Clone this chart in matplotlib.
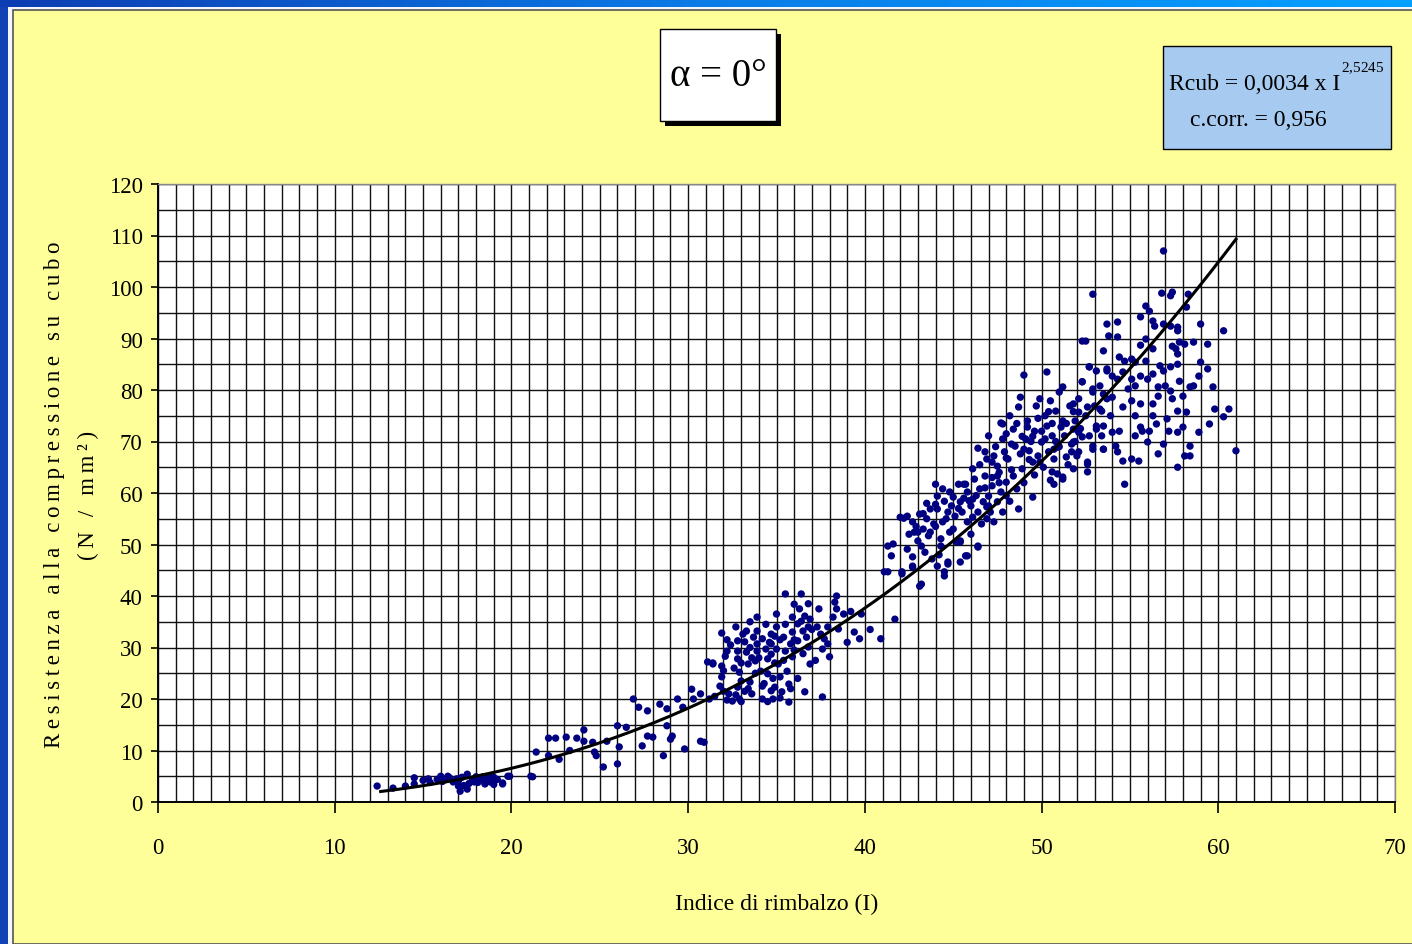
import numpy as np
import matplotlib
matplotlib.use("Agg")
import matplotlib.pyplot as plt
from matplotlib.patches import Rectangle
from matplotlib.ticker import MultipleLocator

plt.rcParams['font.family'] = ['Liberation Serif', 'DejaVu Serif']
plt.rcParams['mathtext.fontset'] = 'custom'
plt.rcParams['mathtext.rm'] = 'Liberation Serif'

# regressione potenza  Rcub = a * I^b
coef_a = 0.0034
coef_b = 2.5245
c_corr = 0.956
curve_start, curve_end = 12.6, 61.0

# letture sclerometriche (indice di rimbalzo, resistenza N/mm2)
pts_low = [
    (12.4, 3.1), (13.3, 2.7), (14.0, 3.1), (14.5, 3.5), (14.5, 4.7), (15.0, 4.2), (15.3, 4.5),
    (15.4, 3.8), (15.8, 4.4), (16.0, 5.0), (16.1, 4.0), (16.4, 4.6), (16.4, 5.0), (16.5, 4.7),
    (16.7, 3.9), (16.9, 4.5), (17.0, 4.1), (17.0, 3.1), (17.1, 2.1), (17.2, 4.8), (17.3, 3.2),
    (17.5, 2.5), (17.5, 5.4), (17.6, 3.6), (17.8, 4.2), (17.9, 3.9), (18.0, 4.9), (18.1, 3.8),
    (18.3, 4.3), (18.4, 4.9), (18.5, 3.5), (18.6, 4.6), (18.8, 3.9), (18.8, 4.9), (18.9, 4.2),
    (19.0, 3.4), (19.0, 4.8), (19.0, 3.9), (19.2, 4.4), (19.5, 3.7), (19.5, 3.5), (19.8, 5.0),
    (19.9, 5.0), (21.1, 5.0), (21.2, 4.9),
]

pts_mid = [
    (21.4, 9.7), (22.1, 12.4), (22.1, 9.0), (22.5, 12.4), (22.7, 8.3), (23.1, 12.6), (23.3, 10.0),
    (23.7, 12.4), (24.1, 14.0), (24.1, 11.8), (24.6, 11.6), (24.7, 9.7), (24.8, 9.0), (25.2, 6.8),
    (25.4, 11.8), (26.0, 14.8), (26.0, 7.4), (26.1, 10.7), (26.5, 14.5), (26.9, 20.0), (27.2, 18.4),
    (27.4, 10.9), (27.7, 12.8), (27.7, 17.7), (28.0, 12.6), (28.4, 19.0), (28.6, 9.0), (28.8, 18.1),
    (28.8, 14.8), (29.0, 12.2), (29.1, 12.8), (29.4, 20.0), (29.7, 18.4), (29.8, 10.3), (30.2, 21.9),
    (30.3, 20.0), (30.7, 21.0), (30.7, 11.8), (30.9, 11.6), (31.2, 20.0),
]

pts_30 = [
    (31.1, 27.2), (31.4, 27.0), (31.4, 26.8), (31.9, 32.8), (31.9, 26.4), (31.9, 24.3), (32.1, 28.3),
    (32.2, 29.3), (32.3, 21.0), (32.5, 19.6), (32.7, 34.0), (32.8, 31.3), (32.8, 29.3), (32.8, 27.8),
    (32.9, 25.2), (32.8, 22.3), (32.9, 20.0), (33.1, 32.6), (33.2, 31.1), (33.3, 33.2), (33.3, 29.1),
    (33.4, 26.8), (33.5, 23.3), (33.6, 21.0), (33.7, 32.0), (33.8, 27.4), (33.9, 29.3), (33.9, 30.7),
    (33.9, 35.9), (33.9, 33.2), (34.1, 25.4), (34.2, 22.5), (34.2, 20.0), (34.2, 31.7), (34.4, 29.7),
    (34.5, 27.8), (34.5, 24.9), (34.7, 32.6), (34.7, 30.7), (34.7, 28.7), (34.7, 21.6), (34.8, 20.0),
    (34.9, 32.2), (35.0, 29.7), (35.1, 26.8), (35.2, 24.3), (35.3, 21.4), (35.4, 32.0), (35.5, 29.3),
    (35.5, 40.4), (35.6, 25.4), (35.7, 22.9), (35.7, 19.4), (35.8, 30.7), (35.9, 33.0), (35.9, 35.9),
    (35.9, 28.2), (36.0, 38.4), (36.2, 34.6), (36.2, 31.3), (36.3, 37.5), (36.4, 40.4), (36.4, 35.1),
    (36.5, 33.2), (36.6, 36.1), (36.6, 21.4), (36.7, 32.0), (36.8, 30.1), (36.9, 35.5), (36.9, 26.8),
    (37.3, 34.0), (37.4, 37.5), (37.5, 32.6), (37.6, 29.7), (37.6, 20.4), (37.7, 31.7), (37.9, 34.0),
    (37.9, 30.7), (38.0, 28.2), (38.2, 35.9), (38.3, 38.8), (38.4, 37.5), (38.5, 33.6), (38.4, 40.0),
    (34.0, 28.0), (33.5, 30.0), (34.6, 31.0), (33.0, 27.0), (35.0, 34.0), (33.8, 25.0), (34.3, 23.0),
    (32.4, 30.5), (32.6, 26.0), (35.4, 27.5), (36.0, 29.5), (34.9, 22.3), (33.2, 21.5), (35.8, 22.0),
    (34.8, 24.0), (33.5, 35.0), (32.2, 31.5), (36.5, 28.8), (35.2, 31.5), (37.0, 33.5), (36.2, 24.0),
    (35.0, 36.5), (34.4, 34.5), (33.0, 23.5), (36.8, 38.5), (37.2, 27.5),
    (31.5, 20.5), (32.0, 21.5), (32.2, 19.8), (32.7, 20.8), (33.0, 19.5), (33.4, 22.0), (31.8, 22.5),
    (34.5, 19.5), (35.2, 20.2), (32.0, 25.5), (33.6, 28.0), (34.9, 27.0), (36.0, 31.5), (36.8, 34.0),
    (35.5, 34.5),
    (38.8, 36.5), (39.0, 31.0), (39.2, 37.0), (39.4, 33.0), (39.7, 31.7), (39.8, 36.5), (40.3, 33.5),
    (40.9, 31.7), (41.7, 35.5),
]

pts_45 = [
    (41.3, 49.7), (41.6, 50.1), (41.5, 47.8), (41.1, 44.7), (42.1, 44.3), (42.0, 55.3), (42.2, 55.1),
    (42.4, 49.1), (42.4, 55.5), (42.7, 54.4), (42.7, 47.6), (42.8, 52.4), (43.0, 50.7), (42.7, 45.6),
    (43.1, 55.9), (43.1, 41.9), (43.2, 49.7), (43.3, 53.0), (43.4, 48.5), (43.5, 55.0), (43.6, 51.7),
    (43.7, 56.9), (43.8, 47.2), (43.9, 54.0), (44.0, 61.7), (44.1, 59.4), (44.1, 45.8), (44.1, 56.9),
    (44.3, 51.1), (44.4, 60.8), (44.4, 54.4), (44.5, 58.4), (44.5, 43.9), (44.7, 46.6), (44.7, 56.3),
    (44.8, 60.2), (44.8, 52.4), (44.9, 57.5), (45.0, 59.2), (45.1, 55.5), (45.2, 50.5), (45.3, 61.7),
    (45.4, 58.3), (45.4, 50.7), (45.5, 56.3), (45.6, 61.7), (45.7, 47.8), (45.8, 54.4), (45.8, 60.2),
    (46.0, 57.5), (46.1, 55.3), (46.1, 58.8), (46.2, 62.7), (46.4, 49.5), (46.4, 56.3), (46.5, 60.8),
    (46.6, 54.0), (46.7, 58.3), (46.8, 63.3), (46.9, 55.0), (47.0, 59.4), (47.1, 56.3), (47.2, 61.4),
    (47.3, 54.4), (47.5, 58.3), (47.5, 63.3), (47.7, 60.2), (47.8, 56.3), (48.0, 62.1), (48.2, 58.4),
    (48.4, 63.3), (48.6, 60.8), (48.7, 56.9),
    (41.3, 44.7), (42.1, 44.7), (43.2, 42.3), (42.7, 45.8), (44.5, 44.7), (44.7, 46.2), (45.4, 46.6),
    (45.8, 47.8), (46.4, 49.7), (45.4, 50.5), (44.3, 49.7), (43.7, 52.4), (43.0, 52.4), (49.5, 59.2),
    (50.6, 64.1), (50.7, 61.7), (51.2, 62.7), (42.5, 52.0), (44.0, 53.5), (45.0, 53.0), (46.0, 52.0),
    (43.5, 58.0), (47.0, 57.5), (45.6, 59.0), (44.2, 48.0), (46.8, 61.0), (48.0, 59.5), (47.6, 62.0),
    (44.6, 55.0), (45.3, 57.0), (46.3, 59.5), (46.9, 57.3), (45.9, 58.5), (44.0, 57.8), (43.3, 56.0),
    (42.9, 53.5),
]

pts_50 = [
    (49.0, 82.9), (50.3, 83.5), (47.7, 73.6), (47.8, 73.4), (47.0, 71.1), (46.4, 68.7), (46.1, 64.7),
    (45.7, 61.7), (46.9, 66.6), (47.3, 67.2), (47.5, 65.2), (47.8, 70.5), (48.1, 66.6), (48.4, 72.4),
    (48.5, 69.1), (48.7, 76.7), (48.8, 67.6), (48.9, 64.7), (49.1, 70.5), (49.2, 74.0), (49.3, 68.2),
    (49.5, 66.0), (49.6, 72.0), (49.7, 76.9), (49.8, 67.2), (49.9, 78.3), (50.0, 69.9), (50.1, 65.0),
    (50.2, 75.0), (50.3, 73.0), (50.4, 68.0), (50.5, 77.9), (50.6, 71.1), (50.7, 66.6), (50.8, 75.9),
    (50.9, 63.7), (50.9, 68.9), (51.0, 79.6), (51.2, 74.0), (51.2, 80.6), (51.3, 71.1), (51.4, 67.0),
    (51.6, 76.9), (51.7, 69.5), (51.8, 72.4), (51.9, 74.0), (52.0, 67.2), (52.1, 78.3), (52.3, 70.9),
    (52.3, 81.6), (52.5, 75.0), (52.6, 66.0), (52.7, 84.5), (52.9, 79.6), (52.9, 69.1), (53.1, 73.0),
    (53.3, 76.3), (53.4, 71.1), (53.5, 68.5), (53.7, 83.7), (53.7, 78.3),
    (48.8, 78.6), (47.2, 63.0), (48.3, 64.5), (49.0, 62.0), (49.6, 63.5), (50.5, 62.5), (47.9, 68.0),
    (48.9, 71.0), (49.4, 70.0), (50.0, 72.0), (50.8, 70.0), (51.5, 65.5), (49.8, 74.5), (48.2, 75.0),
    (50.7, 68.5), (51.1, 72.8), (49.3, 66.5), (48.0, 71.5), (47.4, 69.0), (46.5, 65.5),
    (47.6, 64.0), (48.3, 69.5), (48.6, 73.5), (49.0, 68.5), (49.5, 71.0), (49.9, 66.0), (50.2, 70.5),
    (50.6, 73.5), (51.0, 69.0), (51.4, 73.5), (51.9, 70.0), (52.2, 72.5), (49.2, 72.8), (48.0, 66.8),
    (50.4, 75.8), (51.8, 75.8), (47.2, 66.0), (46.8, 68.0),
]

pts_55 = [
    (52.9, 98.6), (56.8, 98.8), (57.3, 98.3), (57.4, 99.0), (58.3, 98.6), (58.2, 96.1), (55.9, 96.3),
    (56.1, 95.3), (55.6, 94.2), (56.3, 93.4), (56.4, 92.4), (53.7, 92.8), (54.3, 93.2), (53.8, 90.5),
    (54.3, 90.3), (52.5, 89.5), (53.5, 87.6), (55.9, 89.9), (55.6, 88.7), (56.3, 88.0), (56.9, 92.8),
    (57.3, 92.4), (57.7, 92.2), (57.7, 91.5), (59.0, 92.8), (60.3, 91.5), (57.4, 88.5), (57.8, 89.3),
    (58.1, 88.9), (58.6, 89.3), (59.4, 88.9), (57.6, 88.0), (57.7, 87.0), (54.4, 86.4), (54.7, 85.6),
    (55.1, 86.0), (55.3, 85.4), (55.9, 85.6), (56.7, 84.7), (56.9, 83.7), (57.3, 84.5), (57.7, 85.0),
    (57.8, 81.7), (59.0, 85.4), (59.4, 84.1), (58.9, 82.7), (52.7, 84.5), (53.1, 83.7), (53.7, 84.1),
    (54.0, 82.7), (52.3, 81.6), (52.9, 80.2), (53.3, 80.8), (53.5, 79.2), (54.0, 78.6), (54.3, 82.1),
    (54.6, 83.5), (54.9, 80.2), (55.1, 82.1), (55.3, 80.8), (55.6, 82.7), (56.0, 82.1), (56.3, 83.1),
    (56.6, 80.6), (57.0, 80.8), (57.3, 79.8), (58.0, 78.8), (58.4, 80.6), (58.6, 80.8), (59.7, 80.6),
    (56.6, 78.8), (57.4, 78.3), (57.7, 75.9), (58.2, 75.7), (59.8, 76.3), (60.6, 76.3), (60.3, 74.8),
    (59.5, 73.4), (58.9, 71.8), (51.8, 77.3), (52.1, 75.7), (52.6, 76.7), (53.0, 76.9), (53.4, 75.9),
    (53.9, 75.0), (54.6, 76.7), (55.1, 77.9), (55.6, 77.3), (55.3, 75.0), (56.3, 77.3), (56.3, 75.0),
    (56.5, 73.4), (57.1, 74.4), (55.6, 72.8), (55.7, 72.0), (56.1, 72.0), (55.3, 71.1), (54.0, 71.8),
    (54.4, 72.0), (53.5, 73.0), (53.1, 72.4), (52.7, 71.1), (52.1, 71.8), (51.8, 69.9), (51.7, 68.0),
    (52.1, 68.0), (52.9, 68.5), (53.5, 68.5), (54.2, 69.1), (54.3, 68.0), (54.6, 66.2), (55.1, 66.6),
    (55.5, 66.2), (56.0, 69.9), (56.6, 67.6), (56.9, 69.5), (57.2, 72.0), (57.7, 71.8), (58.0, 72.8),
    (58.1, 67.2), (58.4, 69.1), (58.4, 67.2), (57.7, 65.0), (54.7, 61.7), (61.0, 68.2), (52.6, 65.6),
    (52.6, 64.1), (51.8, 64.7), (56.9, 107.0), (52.3, 89.5), (51.2, 63.1),
]

groups = [pts_low, pts_mid, pts_30, pts_45, pts_50, pts_55]
rebound = np.array([p[0] for g in groups for p in g])
strength = np.array([p[1] for g in groups for p in g])

W, H = 1412, 945
fig = plt.figure(figsize=(W / 100, H / 100), dpi=100)
fig.patch.set_facecolor('#FFFF99')

# cornice blu della slide
fig.add_artist(Rectangle((0, 0), 1, 1, transform=fig.transFigure, facecolor='#F4F6FA',
                         edgecolor='none', zorder=-10))
fig.add_artist(Rectangle((13 / W, 0), 1, 1 - 11 / H, transform=fig.transFigure,
                         facecolor='#FFFF99', edgecolor='#555555', linewidth=1.2, zorder=-9))
fig.add_artist(Rectangle((0, 0), 8 / W, 1, transform=fig.transFigure, facecolor='#1143B4',
                         edgecolor='none', zorder=-8))
band = fig.add_axes([0, 1 - 8 / H, 1, 8 / H], zorder=-7)
grad = np.linspace(0, 1, 256)[None, :]
band.imshow(grad, aspect='auto', extent=(0, 1, 0, 1),
            cmap=matplotlib.colors.LinearSegmentedColormap.from_list('bl', ['#0D3DB2', '#0A7CE8', '#05A0FF']))
band.axis('off')

ax = fig.add_axes([158 / W, (H - 803) / H, (1395 - 158) / W, (803 - 185) / H])
ax.set_facecolor('white')
ax.set_xlim(0, 70)
ax.set_ylim(0, 120)
ax.xaxis.set_major_locator(MultipleLocator(10))
ax.xaxis.set_minor_locator(MultipleLocator(1))
ax.yaxis.set_major_locator(MultipleLocator(10))
ax.yaxis.set_minor_locator(MultipleLocator(5))
ax.grid(which='both', color='#111111', linewidth=1.0)
ax.set_axisbelow(True)
ax.tick_params(axis='x', which='major', length=8, width=1.2, pad=17, labelsize=16.5, direction='out')
ax.tick_params(axis='y', which='major', length=5, width=1.2, pad=6, labelsize=16.5, direction='out')
ax.tick_params(which='minor', length=0)
for side in ['left', 'bottom']:
    ax.spines[side].set_color('black')
    ax.spines[side].set_linewidth(1.4)
for side in ['top', 'right']:
    ax.spines[side].set_color('#888888')
    ax.spines[side].set_linewidth(1.0)

ax.scatter(rebound, strength, s=28, color='#000080', edgecolors='none', zorder=3)

xc = np.linspace(curve_start, curve_end, 200)
ax.plot(xc, coef_a * xc ** coef_b, color='black', linewidth=2.2, zorder=4)

ax.set_xlabel('Indice di rimbalzo (I)', fontsize=17, labelpad=25)

ylab1 = '\u2009'.join('Resistenza alla compressione su cubo')
ylab2 = '\u2009'.join('(N / mm²)')
fig.text(55 / W, 1 - 495 / H, ylab1, rotation=90, ha='center', va='center', fontsize=16.5)
fig.text(88 / W, 1 - 495 / H, ylab2, rotation=90, ha='center', va='center', fontsize=16.5)

# riquadro con l'angolo di inclinazione
fig.add_artist(Rectangle((665 / W, 1 - 127 / H), 116 / W, 92 / H, transform=fig.transFigure,
                         facecolor='black', edgecolor='none'))
fig.add_artist(Rectangle((660 / W, 1 - 122 / H), 116 / W, 92 / H, transform=fig.transFigure,
                         facecolor='white', edgecolor='black', linewidth=1.0))
fig.text(718 / W, 1 - 76 / H, 'α = 0°', ha='center', va='center', fontsize=28)

# riquadro equazione di regressione
fig.add_artist(Rectangle((1163 / W, 1 - 150 / H), 228 / W, 103 / H, transform=fig.transFigure,
                         facecolor='#A6CAF0', edgecolor='black', linewidth=1.0))
a_txt = f'{coef_a:.4f}'.replace('.', ',')
b_txt = f'{coef_b:.4f}'.replace('.', '{,}')
fig.text(1169 / W, 1 - 84 / H, f'Rcub = {a_txt} x I', ha='left', va='center', fontsize=17)
fig.text(1341 / W, 1 - 68 / H, f'$\\mathrm{{{b_txt}}}$', ha='left', va='center', fontsize=11)
fig.text(1258 / W, 1 - 121 / H, 'c.corr. = ' + f'{c_corr:.3f}'.replace('.', ','),
         ha='center', va='center', fontsize=17)

fig.savefig('out.png', dpi=100, facecolor=fig.get_facecolor())
